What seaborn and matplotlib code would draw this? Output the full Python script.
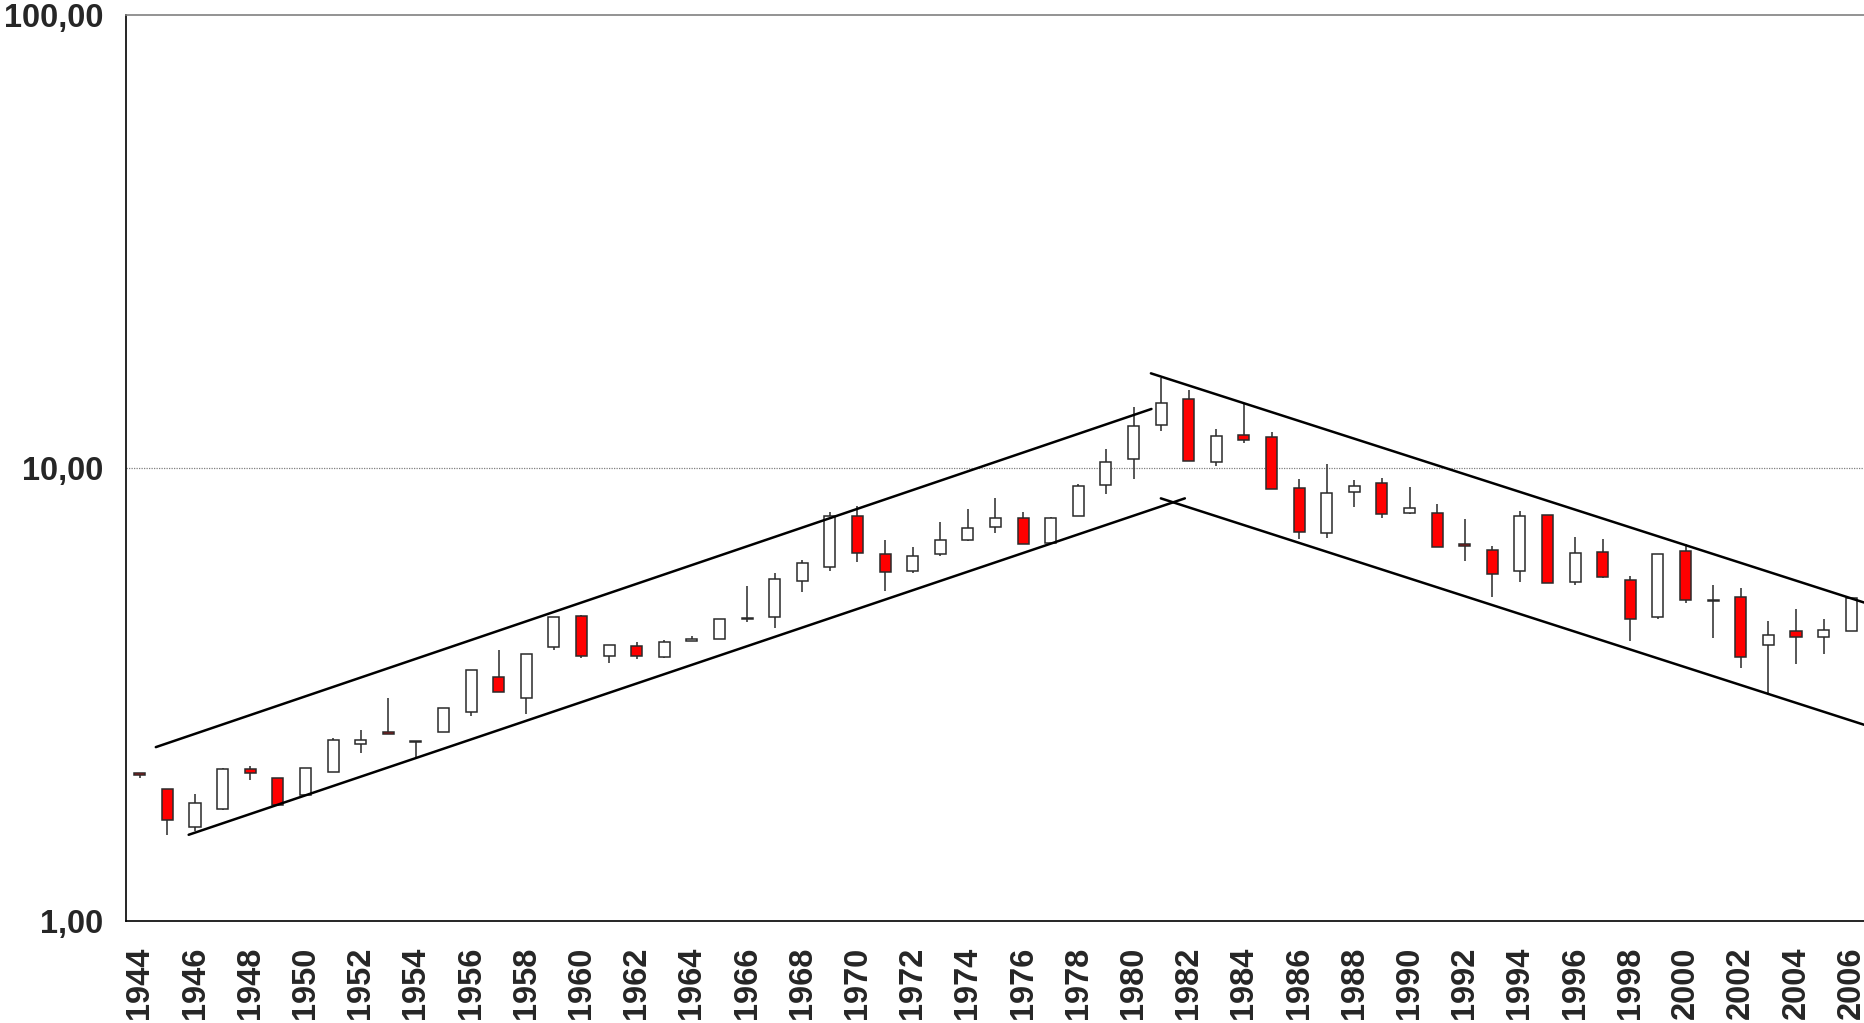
import numpy as np
import pandas as pd
import matplotlib
matplotlib.use("Agg")
import matplotlib.pyplot as plt
from matplotlib.ticker import NullLocator
import seaborn as sns

sns.set_style("white")
plt.rcParams['font.family'] = ['Liberation Sans', 'DejaVu Sans']

# jaren 1944 - 2006, jaarlijkse candles (open / hoog / laag / slot)
years = list(range(1944, 2007))
open_ = [2.12, 1.96, 1.61, 1.77, 2.17, 2.07, 1.90, 2.13, 2.46, 2.62,
         2.48, 2.61, 2.90, 3.45, 3.11, 4.02, 4.72, 3.85, 4.05, 3.82,
         4.14, 4.19, 4.65, 4.68, 5.62, 6.04, 7.83, 6.45, 5.93, 6.46,
         6.94, 7.42, 7.74, 6.83, 7.82, 9.17, 10.48, 12.43, 14.18, 10.31,
         11.83, 11.69, 9.02, 7.18, 8.84, 9.27, 7.94, 7.96, 6.81, 6.58,
         5.92, 7.86, 5.59, 6.53, 5.67, 4.68, 6.56, 5.11, 5.19, 4.07,
         4.37, 4.24, 4.37]
high = [2.12, 1.96, 1.91, 2.18, 2.20, 2.07, 2.18, 2.54, 2.64, 3.10,
        2.50, 2.96, 3.59, 3.97, 3.88, 4.69, 4.74, 4.06, 4.12, 4.17,
        4.26, 4.65, 5.49, 5.86, 6.26, 8.01, 8.25, 6.92, 6.68, 7.60,
        8.12, 8.57, 7.99, 7.79, 9.22, 11.00, 13.61, 15.78, 14.87, 12.17,
        13.84, 12.01, 9.44, 10.20, 9.41, 9.49, 9.07, 8.33, 7.71, 6.73,
        8.04, 7.88, 7.03, 6.96, 5.79, 6.45, 6.79, 5.52, 5.43, 4.60,
        4.88, 4.64, 5.17]
low = [2.07, 1.55, 1.58, 1.76, 2.05, 1.79, 1.90, 2.13, 2.35, 2.59,
       2.30, 2.61, 2.84, 3.21, 2.87, 3.96, 3.80, 3.71, 3.78, 3.80,
       4.14, 4.19, 4.56, 4.44, 5.33, 5.93, 6.21, 5.36, 5.87, 6.39,
       6.90, 7.20, 6.80, 6.83, 7.82, 8.75, 9.47, 12.09, 10.35, 10.10,
       11.34, 9.00, 6.96, 7.02, 8.19, 7.74, 7.90, 6.70, 6.22, 5.18,
       5.59, 5.57, 5.53, 5.72, 4.16, 4.63, 5.03, 4.22, 3.61, 3.15,
       3.70, 3.89, 4.36]
close = [2.10, 1.67, 1.82, 2.17, 2.12, 1.80, 2.18, 2.51, 2.51, 2.59,
         2.50, 2.95, 3.59, 3.21, 3.88, 4.68, 3.85, 4.06, 3.85, 4.13,
         4.20, 4.64, 4.67, 5.69, 6.16, 7.85, 6.50, 5.89, 6.39, 6.95,
         7.38, 7.74, 6.81, 7.77, 9.14, 10.29, 12.40, 13.94, 10.35, 11.79,
         11.53, 9.00, 7.22, 8.81, 9.11, 7.93, 8.15, 6.70, 6.72, 5.83,
         7.82, 5.57, 6.48, 5.74, 4.65, 6.45, 5.12, 5.08, 3.83, 4.27,
         4.24, 4.38, 5.16]

# trendlijnen (positie in jaren vanaf 1944, koers)
trend_seg = ['stijgend boven', 'stijgend boven', 'stijgend onder', 'stijgend onder',
             'dalend boven', 'dalend boven', 'dalend onder', 'dalend onder']
trend_x = [0.58, 36.65, 1.77, 37.86, 36.63, 64.0, 36.99, 64.0]
trend_y = [2.42, 13.50, 1.55, 8.57, 16.18, 4.71, 8.57, 2.53]

df = pd.DataFrame({'jaar': years, 'open': open_, 'hoog': high,
                   'laag': low, 'slot': close})
df['pos'] = np.arange(len(df))
df['onder'] = df[['open', 'slot']].min(axis=1)
df['hoogte'] = (df['open'] - df['slot']).abs()
df['kleur'] = np.where(df['slot'] < df['open'], '#ff0000', 'white')

trend = pd.DataFrame({'seg': trend_seg, 'x': trend_x, 'y': trend_y})

fig = plt.figure(figsize=(18.65, 10.23), dpi=100)
ax = fig.add_axes([126 / 1865, 102 / 1023, 1739 / 1865, 906 / 1023])
ax.set_yscale('log')

# lonten
ax.vlines(df['pos'], df['laag'], df['hoog'], color='#3a3a3a', lw=1.2, zorder=2)
# bodies
ax.bar(df['pos'], df['hoogte'], bottom=df['onder'], width=0.4,
       color=df['kleur'], edgecolor='#2a2a2a', linewidth=1.1, zorder=3)

sns.lineplot(data=trend, x='x', y='y', units='seg', estimator=None,
             color='black', lw=1.8, ax=ax, zorder=4)

ax.set_xlim(-0.5, 62.5)
ax.set_ylim(1, 100)

ax.axhline(10, color='#808080', lw=0.9, ls=(0, (1, 1)), zorder=1)

# y-as
ax.set_yticks([1, 10, 100])
ax.set_yticklabels(['1,00', '10,00', '100,00'], fontsize=23.5, fontweight='bold')
ax.yaxis.set_minor_locator(NullLocator())
ax.tick_params(axis='y', direction='inout', length=14, width=1.2, pad=9.5)

# x-as: streepjes tussen categorieen, labels om de twee jaar
ax.set_xticks(np.arange(-0.5, 62, 2))
ax.set_xticklabels([])
ax.set_xticks(df['pos'][::2], labels=[str(y) for y in years[::2]], minor=True)
ax.tick_params(axis='x', which='major', direction='inout', length=14, width=1.2)
ax.tick_params(axis='x', which='minor', length=0, pad=18.5)
for lab in ax.get_xticklabels(minor=True):
    lab.set_rotation(90)
    lab.set_fontsize(23.5)
    lab.set_fontweight('bold')

ax.set_xlabel('')
ax.set_ylabel('')
for side in ['left', 'bottom']:
    ax.spines[side].set_color('black')
    ax.spines[side].set_linewidth(1.2)
ax.spines['top'].set_color('#808080')
ax.spines['top'].set_linewidth(1.2)
ax.spines['right'].set_visible(False)

fig.savefig('out.png', dpi=100)
